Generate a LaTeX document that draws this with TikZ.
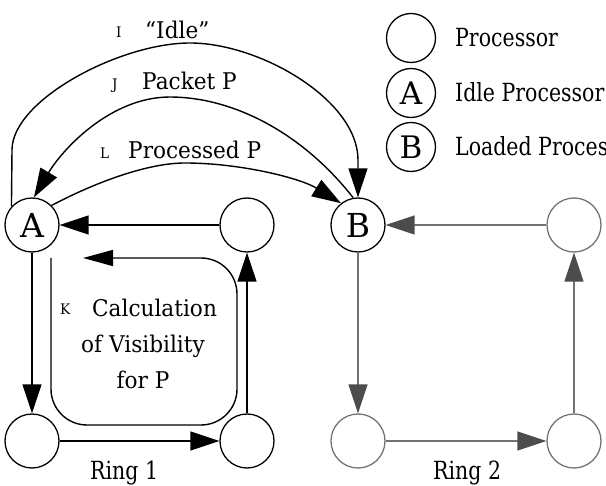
\documentclass[tikz,border=0pt]{standalone}
\usepackage{fontspec}
\setmainfont{DejaVu Serif}
\newfontfamily\labelfont{DejaVu Serif}[FakeStretch=0.94]
\newfontfamily\narrowserif{DejaVu Serif}[FakeStretch=0.82]
\usetikzlibrary{arrows.meta}

\definecolor{ringgray}{gray}{0.45}
\definecolor{tipgray}{gray}{0.30}

\begin{document}
\begin{tikzpicture}[x=1pt, y=-1pt,
  proc/.style={circle, draw, line width=1.3pt, minimum size=54pt, inner sep=0pt,
    font=\fontsize{33}{33}\selectfont},
  proc2/.style={proc, draw=ringgray},
  legendproc/.style={proc, minimum size=49pt, font=\fontsize{31}{31}\selectfont},
  edge/.style={line width=1.4pt, -{Triangle[length=29pt, width=19pt]}},
  loopedge/.style={line width=1.4pt, -{Triangle[length=30pt, width=16pt]}},
  edge2/.style={line width=1.4pt, draw=ringgray,
    -{Triangle[length=29pt, width=19pt, color=tipgray]}},
  lbl/.style={inner sep=0pt, anchor=base west, font=\labelfont\fontsize{23}{28}\selectfont},
  tag/.style={inner sep=0pt, anchor=base west, font=\labelfont\fontsize{14.5}{15}\selectfont},
  narrow/.style={inner sep=0pt, anchor=base west, font=\narrowserif\fontsize{25}{30}\selectfont},
  calc/.style={inner sep=0pt, anchor=base, font=\labelfont\fontsize{23}{28}\selectfont}]

\useasboundingbox (0,0) rectangle (606,486);

% Ring 1
\node[proc] (A)    at (32,225)  {A};
\node[proc] (r1tr) at (247,225) {};
\node[proc] (r1bl) at (32,441)  {};
\node[proc] (r1br) at (247,441) {};

% Ring 2
\node[proc]  (B)    at (358,225) {B};
\node[proc2] (r2tr) at (574,225) {};
\node[proc2] (r2bl) at (358,441) {};
\node[proc2] (r2br) at (574,441) {};

% Legend
\node[legendproc] (lp) at (411,38)  {};
\node[legendproc] (la) at (411,93)  {A};
\node[legendproc] (lb) at (411,147) {B};
\node[narrow] (lpt) at (455,47)  {Processor};
\node[narrow] (lat) at (455,102) {Idle Processor};
\node[narrow] (lbt) at (455,156) {Loaded Processor};

% Ring 1 connectors
\draw[edge] (r1tr) -- (A);
\draw[edge] (A) -- (r1bl);
\draw[edge] (r1bl) -- (r1br);
\draw[edge] (r1br) -- (r1tr);

% Ring 2 connectors
\draw[edge2] (r2tr) -- (B);
\draw[edge2] (B) -- (r2bl);
\draw[edge2] (r2bl) -- (r2br);
\draw[edge2] (r2br) -- (r2tr);

% Messages between A and B
\draw[edge] (A.138) -- (12,150)
  .. controls (12,100) and (120,43) .. (190,43)
  .. controls (260,43) and (358,100) .. (358,160) -- (B.north);
\draw[edge] (B.100) .. controls (300,130) and (230,97) .. (170,97)
  .. controls (110,97) and (62,150) .. (A.86);
\draw[edge] (A.45) .. controls (100,180) and (150,163) .. (185,163)
  .. controls (240,163) and (300,178) .. (B.128);

% Local computation loop on A
\coordinate (k1) at (51,258);
\coordinate (k2) at (83,258);
\draw[loopedge, rounded corners=36pt] (k1) -- (51,425) -- (237,425) -- (237,258) -- (k2);

% Labels
\node[tag] (tI) at (116,38) {I};
\node[lbl] (lI) at (145,39) {“Idle”};
\node[tag] (tJ) at (112,90) {J};
\node[lbl] (lJ) at (142,90) {Packet P};
\node[tag] (tL) at (100,159) {L};
\node[lbl] (lL) at (128,159) {Processed P};
\node[tag] (tK) at (60,315) {K};
\node[lbl] (lK1) at (92,317) {Calculation};
\node[calc] (lK2) at (143,353) {of Visibility};
\node[calc] (lK3) at (143,389) {for P};

\node[narrow] (ring1) at (90,480)  {Ring 1};
\node[narrow] (ring2) at (433,480) {Ring 2};
\end{tikzpicture}
\end{document}
